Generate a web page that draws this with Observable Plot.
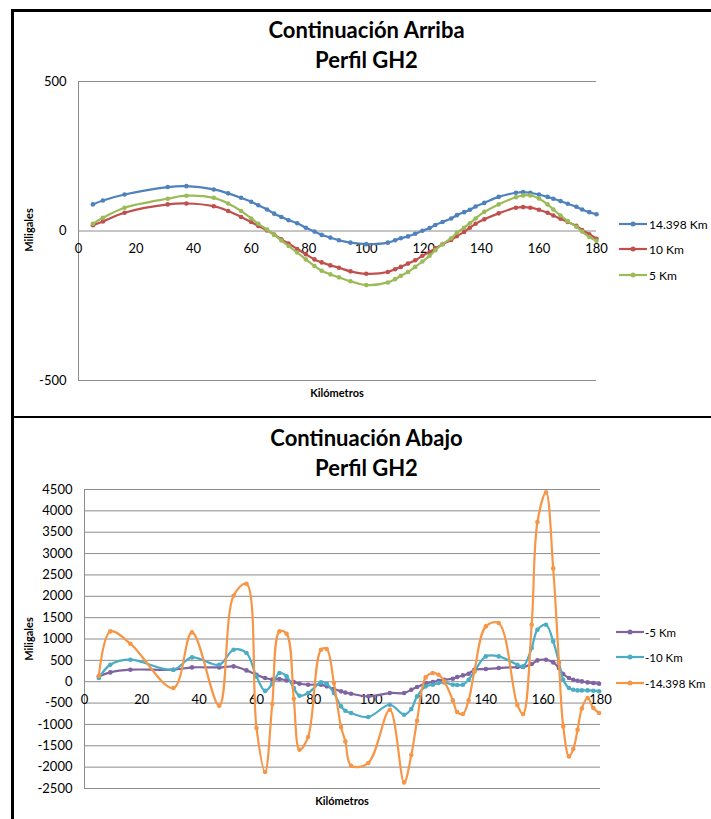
<!DOCTYPE html>
<html>
<head>
<meta charset="utf-8">
<script src="https://cdn.jsdelivr.net/npm/d3@7"></script>
<script src="https://cdn.jsdelivr.net/npm/@observablehq/plot@0.6"></script>
<style>
  html, body { margin: 0; padding: 0; background: #fff; }
  #root { position: relative; width: 711px; height: 819px; background: #fff; overflow: hidden; font-family: Lato, "Open Sans", sans-serif; color: #000; }
  .title { position: absolute; left: 0; width: 733px; text-align: center; font-weight: bold; font-size: 22px; line-height: 30px; }
  .axlab { position: absolute; font-weight: bold; font-size: 11px; white-space: nowrap; }
  .leg { position: absolute; font-size: 12.5px; white-space: nowrap; }
  .frame { position: absolute; background: #000; z-index: 5; }
</style>
</head>
<body>
<div id="root"></div>
<script>
// ---------- DATA ----------
const xTicks = [0, 20, 40, 60, 80, 100, 120, 140, 160, 180];

// Top chart: Continuación Arriba
const kmTop = [5, 8.5, 16, 31, 37.5, 47, 52, 56.5, 60, 62.5, 65.5, 68, 70.5, 73, 76, 79, 82, 84.5, 87.5, 90.5,
  94.5, 100, 107.5, 110, 112, 114.5, 117, 119.5, 122, 124, 126.5, 129.5, 131.5, 134, 136, 138, 141, 146, 152, 154.5,
  157, 160, 163, 165, 167.5, 170, 173, 175, 177.5, 180];
const up14398 = [89, 102, 122, 147, 150, 139, 126, 111, 98, 86, 72, 58, 47, 36, 26, 11, -2, -13, -22, -31,
  -39, -44, -39, -31, -24, -18, -9, 1, 10, 20, 30, 42, 53, 63, 71, 82, 94, 114, 128, 130,
  128, 122, 114, 108, 100, 91, 81, 72, 63, 56];
const up10 = [19, 32, 61, 89, 92, 83, 67, 47, 30, 17, 2, -12, -28, -42, -60, -78, -95, -105, -115, -123,
  -135, -143, -137, -128, -120, -109, -98, -83, -70, -58, -44, -30, -17, -3, 11, 24, 39, 59, 78, 80,
  78, 71, 61, 52, 41, 30, 17, 3, -11, -26];
const up5 = [24, 44, 78, 108, 118, 111, 92, 67, 42, 24, 5, -13, -32, -50, -72, -95, -117, -133, -145, -155,
  -168, -181, -172, -161, -150, -137, -120, -102, -83, -64, -44, -24, -6, 11, 26, 42, 64, 89, 113, 119,
  119, 109, 89, 72, 52, 33, 14, -2, -20, -33];
const topNames = ["14.398 Km", "10 Km", "5 Km"];
const topColors = ["#4F81BD", "#C0504D", "#9BBB59"];
const topYTicks = [-500, 0, 500];

// Bottom chart: Continuación Abajo
const kmBottom = [5, 9, 16, 31, 37.5, 47, 52, 56.5, 60, 63, 65.5, 68, 70.5, 73, 75, 78, 82.5, 84.5, 87, 89.5,
  91, 93, 99, 106.5, 111.5, 114, 116, 119, 121.5, 123.5, 125.5, 128.5, 130, 132, 134, 136, 140, 144.5, 151, 153,
  156, 158, 161, 163.5, 165.5, 167, 169, 170.5, 172, 173.5, 175.5, 177.5, 179.5];
const down5 = [125, 218, 281, 281, 335, 335, 359, 265, 164, 87, 50, 62, 31, -10, -47, -70, -70, -109, -172, -226,
  -255, -281, -343, -265, -265, -187, -125, -40, -5, 23, 47, 70, 109, 148, 187, 281, 296, 320, 343, 343,
  413, 499, 515, 452, 320, 179, 86, 47, 23, 7, -16, -31, -47];
const down10 = [87, 398, 515, 281, 569, 398, 749, 672, 120, -215, -50, 204, 125, -150, -328, -265, -16, -47, -265, -578,
  -680, -733, -827, -539, -773, -640, -344, -110, -70, -31, -16, -70, -78, -70, 47, 242, 593, 593, 398, 359,
  788, 1217, 1334, 944, 452, 47, -148, -187, -203, -203, -203, -210, -226];
const down14398 = [140, 1178, 890, -148, 1154, -562, 2014, 2295, -1084, -2114, -523, 1178, 1124, -398, -1592, -1296, 749, 765, -31, -1061,
  -1397, -1967, -1904, -656, -2357, -1717, -913, 101, 204, 164, 7, -437, -710, -757, -437, 242, 1295, 1373, -546, -757,
  1334, 3739, 4432, 2653, 452, -1046, -1749, -1576, -1124, -625, -380, -616, -733];
const bottomNames = ["-5 Km", "-10 Km", "-14.398 Km"];
const bottomColors = ["#8064A2", "#4BACC6", "#F79646"];
const bottomYTicks = [-2500, -2000, -1500, -1000, -500, 0, 500, 1000, 1500, 2000, 2500, 3000, 3500, 4000, 4500];

// ---------- DRAW ----------
const root = document.getElementById("root");
function el(tag, cls, style, text) {
  const e = document.createElement(tag);
  if (cls) e.className = cls;
  Object.assign(e.style, style || {});
  if (text != null) e.textContent = text;
  root.appendChild(e);
  return e;
}

// frame lines
el("div", "frame", {left: "11px", top: "9px", width: "700px", height: "3px"});
el("div", "frame", {left: "11px", top: "9px", width: "3px", height: "810px"});
el("div", "frame", {left: "11px", top: "416px", width: "700px", height: "2px"});

function makeChart(opt) {
  const marks = [
    Plot.ruleY(opt.grid, {stroke: "#8c8c8c", strokeWidth: 1}),
    Plot.ruleX([0], {stroke: "#8c8c8c", strokeWidth: 1}),
    Plot.axisY(opt.yTicks, {tickSize: 0, tickPadding: opt.tickPad, fontSize: 13, fill: "#000", label: null, tickFormat: d => String(d)}),
    Plot.text(xTicks, {x: d => d, y: 0, dy: 18, text: d => String(d), fontSize: 13, fill: "#000"})
  ];
  opt.series.forEach((vals, si) => {
    const data = opt.km.map((x, i) => ({x, y: vals[i]}));
    marks.push(Plot.line(data, {x: "x", y: "y", stroke: opt.colors[si], strokeWidth: 2.2, curve: "catmull-rom"}));
    marks.push(Plot.dot(data, {x: "x", y: "y", fill: opt.colors[si], r: 2.3}));
  });
  const svg = Plot.plot({
    width: 711, height: opt.height,
    marginLeft: opt.ml, marginRight: opt.mr, marginTop: opt.mt, marginBottom: opt.mb,
    x: {domain: [0, 180], axis: null},
    y: {domain: opt.yDomain, axis: null},
    style: {background: "transparent", fontFamily: "Lato, 'Open Sans', sans-serif", fontSize: "13px", color: "#000", overflow: "visible"},
    marks
  });
  svg.style.position = "absolute";
  svg.style.left = "0px";
  svg.style.top = opt.top + "px";
  root.appendChild(svg);
}

// Top chart: plot area x 78..596, y 81..380
makeChart({
  km: kmTop, series: [up14398, up10, up5], colors: topColors,
  yDomain: [-500, 500], yTicks: topYTicks, grid: topYTicks, tickPad: 12,
  top: 70, height: 340, ml: 78, mr: 711 - 596, mt: 11, mb: 30
});
// Bottom chart: plot area x 84..600, y 489..788
makeChart({
  km: kmBottom, series: [down5, down10, down14398], colors: bottomColors,
  yDomain: [-2500, 4500], yTicks: bottomYTicks, grid: bottomYTicks, tickPad: 12,
  top: 478, height: 341, ml: 84, mr: 711 - 600, mt: 11, mb: 31
});

// titles
el("div", "title", {top: "15px"}, "Continuación Arriba");
el("div", "title", {top: "45px"}, "Perfil GH2");
el("div", "title", {top: "423px"}, "Continuación Abajo");
el("div", "title", {top: "453px"}, "Perfil GH2");

// axis titles
function axLab(text, x, y, rot) {
  el("div", "axlab", {left: x + "px", top: y + "px", transform: "translate(-50%,-50%)" + (rot ? " rotate(-90deg)" : "")}, text);
}
axLab("Miligales", 28, 230, true);
axLab("Kilómetros", 337, 392, false);
axLab("Miligales", 28, 639, true);
axLab("Kilómetros", 342, 800, false);

// legends
function legend(names, colors, x0, ys, fs, gap) {
  names.forEach((n, i) => {
    const ns = "http://www.w3.org/2000/svg";
    const s = document.createElementNS(ns, "svg");
    s.setAttribute("width", 30); s.setAttribute("height", 10);
    Object.assign(s.style, {position: "absolute", left: x0 + "px", top: (ys[i] - 5) + "px"});
    const ln = document.createElementNS(ns, "line");
    ln.setAttribute("x1", 0); ln.setAttribute("x2", 28); ln.setAttribute("y1", 5); ln.setAttribute("y2", 5);
    ln.setAttribute("stroke", colors[i]); ln.setAttribute("stroke-width", 2.2);
    const c = document.createElementNS(ns, "circle");
    c.setAttribute("cx", 14); c.setAttribute("cy", 5); c.setAttribute("r", 2.5); c.setAttribute("fill", colors[i]);
    s.appendChild(ln); s.appendChild(c);
    root.appendChild(s);
    el("div", "leg", {left: (x0 + gap) + "px", top: ys[i] + "px", transform: "translateY(-50%)", fontSize: fs + "px"}, n);
  });
}
legend(topNames, topColors, 619, [224, 249, 275], 12, 30);
legend(bottomNames, bottomColors, 616, [632, 657, 683], 11.5, 29);
</script>
</body>
</html>
